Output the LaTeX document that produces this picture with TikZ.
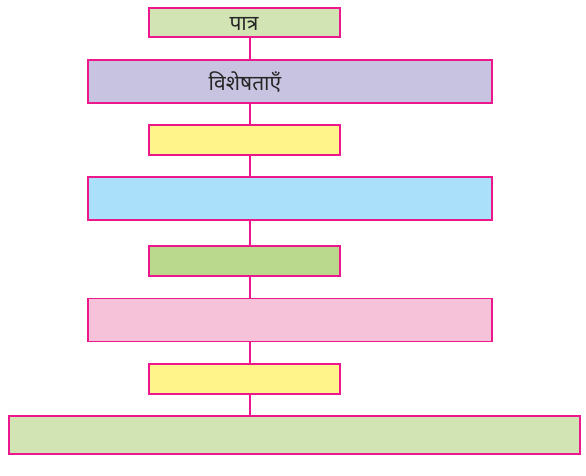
\documentclass[tikz,border=0pt]{standalone}
\usepackage{fontspec}
\newfontfamily\devfont[Script=Devanagari]{Noto Sans}
\definecolor{edgec}{HTML}{EC178C}
\definecolor{gA}{HTML}{D2E4B4}
\definecolor{lav}{HTML}{C8C3E1}
\definecolor{yel}{HTML}{FFF48A}
\definecolor{blu}{HTML}{ABE0FA}
\definecolor{gB}{HTML}{BAD98C}
\definecolor{pnk}{HTML}{F6C2DA}
\tikzset{
  box/.style={draw=edgec, line width=1.2pt, inner sep=0pt, outer sep=0pt},
  conn/.style={draw=edgec, line width=1.2pt},
  devtext/.style={font=\devfont\fontsize{21}{24}\selectfont, text=black!85, inner sep=0pt, anchor=base}
}
\begin{document}
\begin{tikzpicture}[x=1pt,y=-1pt]
\useasboundingbox (0,0) rectangle (586,475);
\coordinate (cx) at (250,0);
\node[box, fill=gA, minimum width=191pt, minimum height=29pt] (b1) at (244.5,22.5) {};
\node[box, fill=lav, minimum width=404pt, minimum height=43pt] (b2) at (290,81.5) {};
\node[box, fill=yel, minimum width=191pt, minimum height=30pt] (b3) at (244.5,140) {};
\node[box, fill=blu, minimum width=404pt, minimum height=43pt] (b4) at (290,198.5) {};
\node[box, fill=gB, minimum width=191pt, minimum height=30pt] (b5) at (244.5,261) {};
\node[box, fill=pnk, minimum width=404pt, minimum height=43pt] (b6) at (290,320) {};
\node[box, fill=yel, minimum width=191pt, minimum height=30pt] (b7) at (244.5,379) {};
\node[box, fill=gA, minimum width=571pt, minimum height=38pt] (b8) at (294.5,435) {};
\node[devtext] (t1) at (244,30) {पात्र};
\node[devtext] (t2) at (245,90) {विशेषताएँ};
\draw[conn] (b1.south -| cx) -- (b2.north -| cx);
\draw[conn] (b2.south -| cx) -- (b3.north -| cx);
\draw[conn] (b3.south -| cx) -- (b4.north -| cx);
\draw[conn] (b4.south -| cx) -- (b5.north -| cx);
\draw[conn] (b5.south -| cx) -- (b6.north -| cx);
\draw[conn] (b6.south -| cx) -- (b7.north -| cx);
\draw[conn] (b7.south -| cx) -- (b8.north -| cx);
\end{tikzpicture}
\end{document}
